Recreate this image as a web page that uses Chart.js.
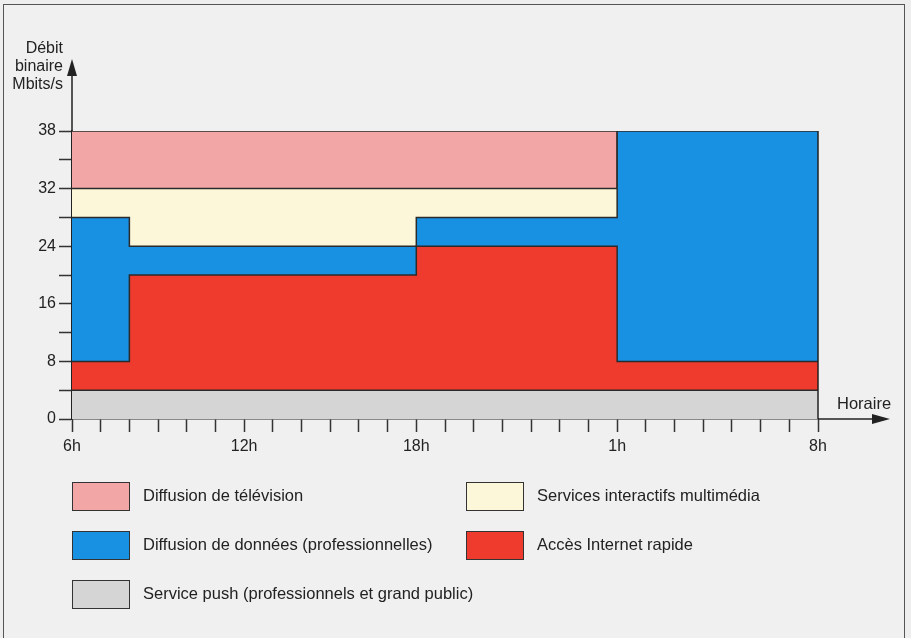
<!DOCTYPE html>
<html>
<head>
<meta charset="utf-8">
<script src="https://cdn.jsdelivr.net/npm/chart.js@4"></script>
<style>
    html, body { margin: 0; padding: 0; }
    body {
        width: 911px; height: 638px; overflow: hidden; position: relative;
        background: #eeeeee;
        font-family: "Liberation Sans", Arial, sans-serif; color: #222;
    }
    #frame {
        position: absolute; left: 3px; top: 4px; width: 902px; height: 640px;
        border: 1.5px solid #555; border-bottom: none; box-sizing: border-box;
        background: #f0f0f0;
    }
    canvas { position: absolute; left: 0; top: 0; }
    .ytitle {
        position: absolute; left: 0; top: 39px; width: 63px;
        text-align: right; font-size: 16px; line-height: 18px;
    }
    .xtitle { position: absolute; left: 837px; top: 394px; font-size: 16.5px; }
    .leg { position: absolute; font-size: 16.5px; }
    .leg span {
        position: absolute; left: 0; top: 0; width: 56px; height: 27px;
        border: 1.5px solid #333;
    }
    .leg div { position: absolute; left: 71px; top: 4px; white-space: nowrap; }
</style>
</head>
<body>
<div id="frame"></div>
<canvas id="chart" width="911" height="638"></canvas>
<div class="ytitle">Débit<br>binaire<br>Mbits/s</div>
<div class="xtitle">Horaire</div>
<div id="legend"></div>
<script>
// hours counted from 6h (0 = 6h, 26 = 8h the next morning)
const hours = [0, 2, 12, 19, 26];

// stacked thickness of each service, in the drawing's scale units
const pushService   = [4, 4, 4, 4, 4];
const internet      = [4, 16, 20, 4, 4];
const dataBroadcast = [20, 4, 4, 32, 32];
const interactive   = [4, 8, 4, 0, 0];
const television    = [8, 8, 8, 0, 0];

const xLabelHours = [0, 6, 12, 19, 26];
const xLabels = ['6h', '12h', '18h', '1h', '8h'];
// the top of the drawing is labelled 38 although it sits on the 40 grid step
const yLabelValues = [0, 8, 16, 24, 32, 40];
const yLabels = ['0', '8', '16', '24', '32', '38'];

const names = [
    'Service push (professionnels et grand public)',
    'Accès Internet rapide',
    'Diffusion de données (professionnelles)',
    'Services interactifs multimédia',
    'Diffusion de télévision'
];
const colors = ['#d6d5d5', '#ee3b2d', '#1891e2', '#fdf7da', '#f2a7a6'];
const series = [pushService, internet, dataBroadcast, interactive, television];

// each value holds from its hour until the next one
const datasets = series.map((vals, i) => ({
    label: names[i],
    data: hours.map((h, j) => ({ x: h, y: vals[j] })),
    backgroundColor: colors[i],
    borderColor: '#2b2b2b',
    borderWidth: 1.5,
    fill: i === 0 ? 'origin' : '-1',
    stepped: 'before',
    pointRadius: 0
}));

// arrows on both axes and the closing edge at 8h
const axisArrows = {
    id: 'axisArrows',
    afterDraw(chart) {
        const c = chart.ctx, a = chart.chartArea;
        const xs = chart.scales.x, ys = chart.scales.y;
        c.save();
        c.strokeStyle = '#222';
        c.fillStyle = '#222';
        c.lineWidth = 1.5;
        // closing edge
        let top = 0;
        series.forEach(s => { top += s[s.length - 1]; });
        const xe = xs.getPixelForValue(hours[hours.length - 1]);
        c.beginPath();
        c.moveTo(xe, ys.getPixelForValue(0));
        c.lineTo(xe, ys.getPixelForValue(top));
        c.stroke();
        // y axis
        c.beginPath();
        c.moveTo(a.left, a.top);
        c.lineTo(a.left, 70);
        c.stroke();
        c.beginPath();
        c.moveTo(a.left, 59);
        c.lineTo(a.left - 5, 76);
        c.lineTo(a.left + 5, 76);
        c.closePath();
        c.fill();
        // x axis
        c.beginPath();
        c.moveTo(a.right, a.bottom);
        c.lineTo(880, a.bottom);
        c.stroke();
        c.beginPath();
        c.moveTo(890, a.bottom);
        c.lineTo(872, a.bottom - 5);
        c.lineTo(872, a.bottom + 5);
        c.closePath();
        c.fill();
        c.restore();
    }
};

const font = { family: '"Liberation Sans", Arial, sans-serif', size: 16 };

new Chart(document.getElementById('chart'), {
    type: 'line',
    data: { datasets: datasets },
    options: {
        responsive: false,
        animation: false,
        layout: { padding: { left: 0, top: 131, right: 93, bottom: 0 } },
        plugins: { legend: { display: false }, tooltip: { enabled: false } },
        scales: {
            x: {
                type: 'linear',
                min: 0,
                max: 26,
                afterBuildTicks: s => { s.ticks = []; for (let h = 0; h <= 26; h++) s.ticks.push({ value: h }); },
                afterFit: s => { s.height = 219; },
                ticks: {
                    autoSkip: false, maxRotation: 0, padding: 5, color: '#222', font: font,
                    callback: v => { const i = xLabelHours.indexOf(v); return i < 0 ? '' : xLabels[i]; }
                },
                grid: { drawOnChartArea: false, tickLength: 13, tickColor: '#333', tickWidth: 1.5 },
                border: { color: '#222', width: 1.5 }
            },
            y: {
                stacked: true,
                min: 0,
                max: 40,
                afterBuildTicks: s => { s.ticks = []; for (let v = 0; v <= 40; v += 4) s.ticks.push({ value: v }); },
                afterFit: s => { s.width = 72; },
                ticks: {
                    padding: 3, color: '#222', font: font,
                    callback: v => { const i = yLabelValues.indexOf(v); return i < 0 ? '' : yLabels[i]; }
                },
                grid: { drawOnChartArea: false, tickLength: 13, tickColor: '#333', tickWidth: 1.5 },
                border: { color: '#222', width: 1.5 }
            }
        }
    },
    plugins: [axisArrows]
});

// legend laid out in two columns as in the figure
const legendItems = [
    { i: 4, x: 72, y: 482 }, { i: 3, x: 466, y: 482 },
    { i: 2, x: 72, y: 531 }, { i: 1, x: 466, y: 531 },
    { i: 0, x: 72, y: 580 }
];
const legend = document.getElementById('legend');
legendItems.forEach(it => {
    const d = document.createElement('div');
    d.className = 'leg';
    d.style.left = it.x + 'px';
    d.style.top = it.y + 'px';
    d.innerHTML = '<span style="background:' + colors[it.i] + '"></span><div>' + names[it.i] + '</div>';
    legend.appendChild(d);
});
</script>
</body>
</html>
